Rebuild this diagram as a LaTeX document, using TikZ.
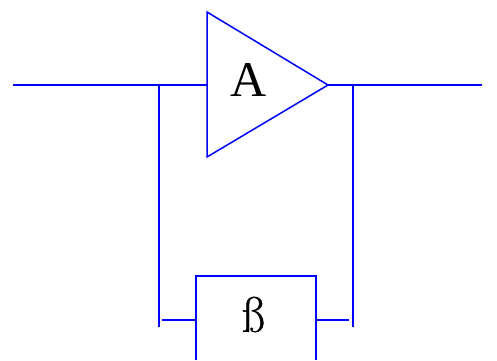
\documentclass[tikz,border=0pt]{standalone}
\usepackage{fontspec}
\setmainfont{Liberation Serif}
\newfontfamily\lmfont[FakeBold=0.7]{Latin Modern Roman}
\definecolor{wireblue}{RGB}{0,0,255}
\tikzset{wire/.style={draw=wireblue,line width=1.5pt,line cap=butt},lbl/.style={inner sep=0pt,text=black}}
\begin{document}
\begin{tikzpicture}[x=1pt,y=-1pt]
\useasboundingbox (0,0) rectangle (497,360);
\fill[white] (0,0) rectangle (497,360);
\coordinate (in) at (13,85);
\coordinate (tl) at (207,12);
\coordinate (bl) at (207,157);
\coordinate (out) at (328,85);
\coordinate (end) at (482,85);
\coordinate (j1) at (159,85);
\coordinate (j2) at (353,85);
\coordinate (b1) at (159,327);
\coordinate (b2) at (353,327);
\coordinate (lc) at (162,320);
\coordinate (lb) at (196,320);
\coordinate (ra) at (316,320);
\coordinate (rb) at (349,320);
\coordinate (ptl) at (196,360);
\coordinate (ptl2) at (196,276);
\coordinate (ptr2) at (316,276);
\coordinate (ptr) at (316,360);
\coordinate (inj) at (207,85);
\draw[wire] (tl) -- (out) -- (bl) -- cycle;
\draw[wire] (in) -- (inj);
\draw[wire] (out) -- (end);
\draw[wire] (j1) -- (b1);
\draw[wire] (j2) -- (b2);
\draw[wire] (ptl) -- (ptl2) -- (ptr2) -- (ptr);
\draw[wire] (lc) -- (lb);
\draw[wire] (ra) -- (rb);
\node[lbl,font=\fontsize{50}{50}\selectfont] (A) at (248.5,80) {A};
\node[lbl,font=\lmfont\fontsize{50}{50}\selectfont] (B) at (253,314.5) {ß};
\end{tikzpicture}
\end{document}
